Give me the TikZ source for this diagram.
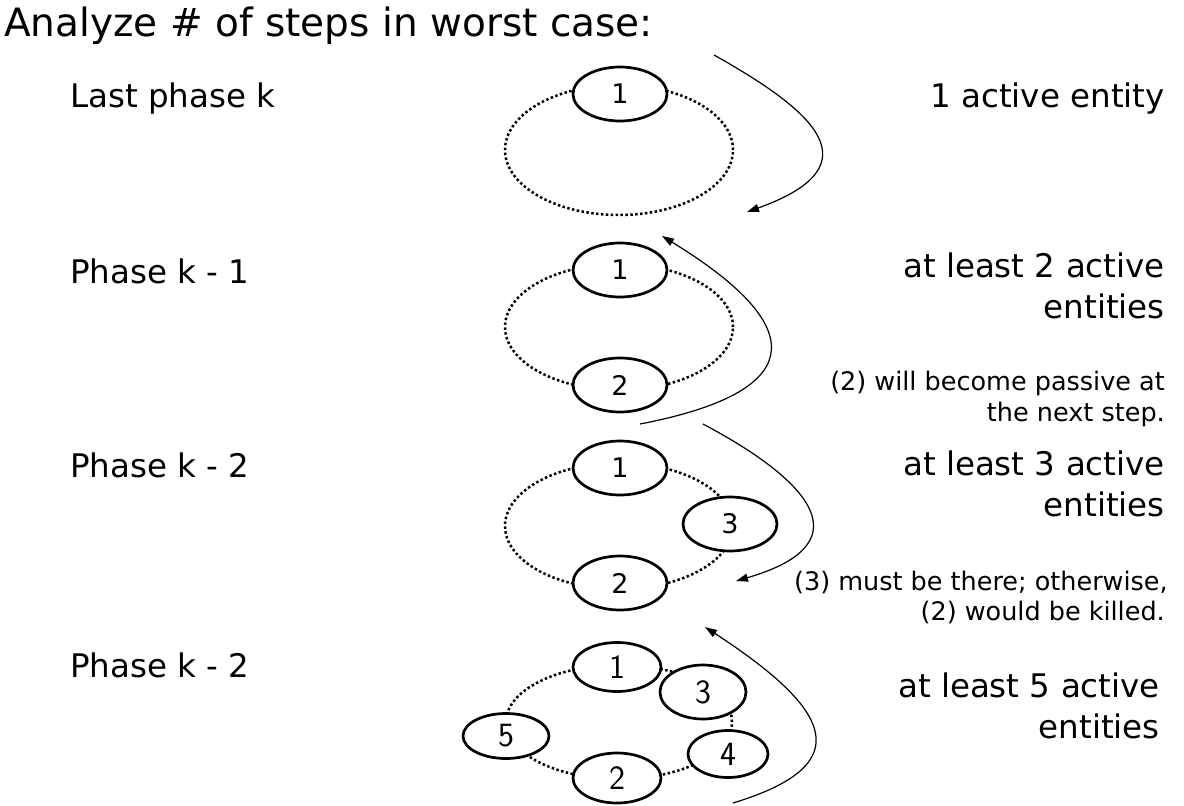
\documentclass[tikz,border=0pt]{standalone}
\usepackage{fontspec}
\setmainfont{DejaVu Sans}
\usetikzlibrary{shapes.geometric,arrows.meta}
\begin{document}
\begin{tikzpicture}[x=1pt,y=-1pt,
  ring/.style={ellipse, draw, line width=2.5pt, dash pattern=on 2.5pt off 2.4pt, inner sep=0pt},
  ent/.style={ellipse, draw, fill=white, line width=2.7pt, inner sep=0pt, minimum width=94pt, minimum height=54pt, font=\fontsize{27}{27}\selectfont},
  entb/.style={ent, font=\sffamily\fontsize{34}{34}\selectfont},
  big/.style={font=\fontsize{32.5}{38}\selectfont, inner sep=0pt},
  ttl/.style={font=\fontsize{39}{44}\selectfont, inner sep=0pt},
  small/.style={font=\fontsize{25.5}{30}\selectfont, inner sep=0pt},
  arr/.style={line width=1.2pt, -{Triangle[length=12pt,width=8pt]}}
]
\useasboundingbox (0,0) rectangle (1184,806);

% title
\node[ttl, anchor=base west] (title) at (4,36) {Analyze \# of steps in worst case:};

% left labels
\node[big, anchor=base west] (ph1) at (70,107) {Last phase k};
\node[big, anchor=base west] (ph2) at (70,283) {Phase k - 1};
\node[big, anchor=base west] (ph3) at (70,477) {Phase k - 2};
\node[big, anchor=base west] (ph4) at (70,677) {Phase k - 2};

% right labels
\node[big, anchor=base east] (t1) at (1165,107) {1 active entity};
\node[big, anchor=base east] (t2a) at (1165,277) {at least 2 active};
\node[big, anchor=base east] (t2b) at (1165,318) {entities};
\node[small, anchor=base east] (n2a) at (1165,390) {(2) will become passive at};
\node[small, anchor=base east] (n2b) at (1165,421) {the next step.};
\node[big, anchor=base east] (t3a) at (1165,475) {at least 3 active};
\node[big, anchor=base east] (t3b) at (1165,516) {entities};
\node[small, anchor=base east] (n3a) at (1168,590) {(3) must be there; otherwise,};
\node[small, anchor=base east] (n3b) at (1165,620) {(2) would be killed.};
\node[big, anchor=base east] (t4a) at (1160,697) {at least 5 active};
\node[big, anchor=base east] (t4b) at (1160,738) {entities};

% group 1
\node[ring, minimum width=228pt, minimum height=130pt] (r1) at (619,150) {};
\node[ent] (g1a) at (620,94) {1};

% group 2
\node[ring, minimum width=228pt, minimum height=126pt] (r2) at (619,327) {};
\node[ent] (g2a) at (620,270) {1};
\node[ent] (g2b) at (620,385) {2};

% group 3
\node[ring, minimum width=228pt, minimum height=126pt] (r3) at (619,526) {};
\node[ent] (g3a) at (620,468) {1};
\node[ent] (g3c) at (730,524) {3};
\node[ent] (g3b) at (620,583) {2};

% group 4
\node[ring, minimum width=226pt, minimum height=114pt] (r4) at (619,722) {};
\node[entb, minimum width=88pt, minimum height=49pt] (g4a) at (617,667) {1};
\node[entb, minimum width=86pt, minimum height=54pt] (g4c) at (703,692) {3};
\node[entb, minimum width=86pt, minimum height=45pt] (g4e) at (506,736) {5};
\node[entb, minimum width=80pt, minimum height=47pt] (g4d) at (728,754) {4};
\node[entb, minimum width=88pt, minimum height=50pt] (g4b) at (617,778) {2};

% arrows
\coordinate (a1s) at (714,55);  \coordinate (a1e) at (747,212);
\coordinate (a2s) at (640,424); \coordinate (a2e) at (662,236);
\coordinate (a3s) at (703,424); \coordinate (a3e) at (736,581);
\coordinate (a4s) at (733,803); \coordinate (a4e) at (705,627);
\draw[arr] (a1s) .. controls (812,110) and (878,165) .. (a1e);
\draw[arr] (a2s) .. controls (801,393) and (817,331) .. (a2e);
\draw[arr] (a3s) .. controls (818,485) and (860,545) .. (a3e);
\draw[arr] (a4s) .. controls (858,765) and (834,711) .. (a4e);
\end{tikzpicture}
\end{document}
